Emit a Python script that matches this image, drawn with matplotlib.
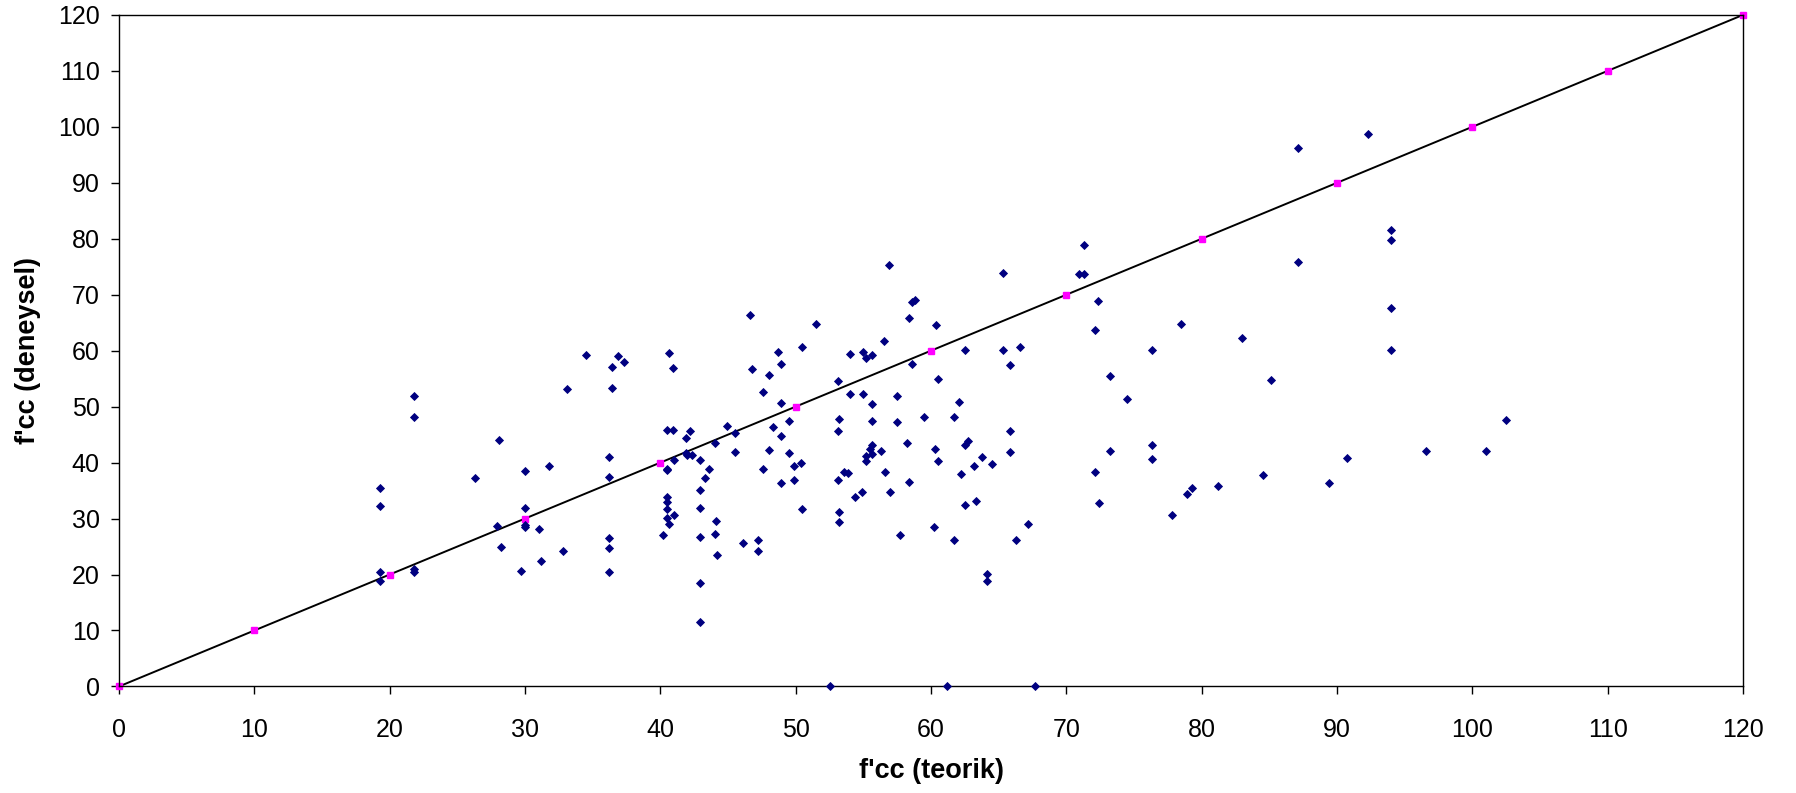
import matplotlib
matplotlib.use("Agg")
import matplotlib.pyplot as plt
import numpy as np

# Theoretical (x) vs experimental (y) confined concrete strength, f'cc
teorik = [
    34.5, 36.9, 36.4, 37.3, 33.1, 36.4, 21.8, 21.8, 28.1, 36.2,
    26.3, 30.0, 31.8, 36.2, 19.3, 19.3, 30.0, 27.9, 30.0, 30.0,
    31.0, 28.2, 32.8, 31.2, 29.7, 36.2, 36.2, 36.2, 19.3, 19.3,
    21.8, 21.8,
    46.6, 51.5, 58.4, 58.6, 58.8, 60.4, 40.6, 40.9, 46.8, 48.7,
    50.5, 48.9, 48.0, 47.6, 54.0, 55.0, 55.2, 55.6, 56.5, 58.6,
    53.1, 54.0, 55.0, 55.6, 57.5, 60.5, 48.9, 49.5, 48.3, 48.9,
    48.0, 49.5, 47.6, 49.9, 50.4, 48.9, 49.9, 50.5, 53.2, 53.1,
    55.6, 57.5, 59.5, 55.6, 55.5, 55.2, 55.6, 55.2, 56.3, 58.2,
    60.3, 60.5, 53.6, 53.9, 53.1, 56.6, 58.4, 57.0, 54.9, 54.4,
    53.2, 53.2, 57.7, 60.2, 52.5, 40.5, 40.9, 41.9, 42.2, 44.9,
    45.5, 44.0, 41.9, 42.3, 42.0, 41.0, 45.5, 42.9, 40.5, 40.5,
    43.6, 43.3, 42.9, 40.5, 40.5, 40.5, 42.9, 40.5, 41.0, 40.6,
    40.2, 44.1, 44.0, 42.9, 46.1, 47.2, 47.2, 44.2, 42.9, 42.9,
    56.9,
    71.3, 65.3, 70.9, 71.3, 72.3, 72.1, 78.5, 76.3, 62.5, 65.3,
    66.6, 65.8, 73.2, 74.5, 62.1, 61.7, 65.8, 62.7, 62.5, 65.8,
    63.8, 73.2, 76.3, 76.3, 63.2, 64.5, 62.2, 72.1, 62.5, 63.3,
    72.4, 78.9, 79.3, 81.2, 77.8, 67.2, 61.7, 66.3, 64.1, 64.1,
    61.2, 67.7,
    87.1, 92.3, 94.0, 94.0, 87.1, 94.0, 94.0, 83.0, 85.1, 102.5,
    96.6, 101.0, 90.7, 84.5, 89.4,
]
deneysel = [
    59.2, 59.0, 57.1, 57.9, 53.1, 53.3, 51.9, 48.1, 44.0, 41.0,
    37.3, 38.5, 39.4, 37.5, 35.4, 32.3, 31.9, 28.6, 28.9, 28.5,
    28.2, 25.0, 24.2, 22.4, 20.7, 26.5, 24.8, 20.4, 20.5, 18.8,
    20.9, 20.5,
    66.4, 64.8, 65.8, 68.7, 69.1, 64.5, 59.6, 56.9, 56.7, 59.8,
    60.6, 57.7, 55.6, 52.7, 59.4, 59.8, 58.7, 59.3, 61.7, 57.7,
    54.6, 52.3, 52.3, 50.4, 51.9, 55.0, 50.6, 47.5, 46.3, 44.8,
    42.3, 41.7, 38.9, 39.4, 40.0, 36.3, 36.9, 31.7, 47.7, 45.6,
    47.5, 47.3, 48.1, 43.2, 42.5, 41.1, 41.6, 40.2, 42.1, 43.5,
    42.5, 40.2, 38.4, 38.1, 36.9, 38.4, 36.5, 34.8, 34.8, 33.9,
    31.1, 29.4, 27.0, 28.4, 0.0, 45.9, 45.8, 44.4, 45.6, 46.5,
    45.2, 43.5, 41.7, 41.3, 41.3, 40.4, 41.9, 40.4, 38.8, 38.6,
    38.9, 37.3, 35.1, 33.8, 32.9, 31.7, 31.9, 30.1, 30.7, 29.0,
    27.0, 29.6, 27.3, 26.7, 25.7, 26.1, 24.2, 23.4, 18.4, 11.5,
    75.3,
    78.9, 73.9, 73.7, 73.7, 68.9, 63.7, 64.8, 60.2, 60.2, 60.2,
    60.6, 57.5, 55.4, 51.4, 50.8, 48.1, 45.6, 43.8, 43.1, 41.9,
    41.0, 42.1, 43.1, 40.6, 39.4, 39.8, 37.9, 38.3, 32.5, 33.2,
    32.8, 34.4, 35.4, 35.8, 30.7, 29.0, 26.1, 26.1, 20.1, 18.8,
    0.0, 0.0,
    96.3, 98.8, 81.6, 79.8, 75.8, 67.7, 60.2, 62.3, 54.8, 47.6,
    42.0, 42.0, 40.9, 37.8, 36.4,
]

# Equality line y = x with markers every 10 units
esitlik = list(range(0, 121, 10))

ticks = list(range(0, 121, 10))

plt.rcParams['font.family'] = ['Liberation Sans', 'DejaVu Sans']

fig = plt.figure(figsize=(17.96, 7.93), dpi=100)
ax = fig.add_axes([0.0663, 0.1344, 0.9042, 0.8468])

ax.plot(esitlik, esitlik, color='black', lw=1.4, marker='s',
        markersize=4.2, markerfacecolor='#ff00ff', markeredgecolor='#ff00ff',
        zorder=2, clip_on=False)
ax.plot(teorik, deneysel, linestyle='none', marker='D', markersize=3.9,
        markerfacecolor='#000080', markeredgecolor='#000080',
        markeredgewidth=0.6, zorder=3, clip_on=False)

ax.set_xlim(0, 120)
ax.set_ylim(0, 120)
ax.set_xticks(ticks)
ax.set_yticks(ticks)
ax.tick_params(direction='out', length=6, width=1, labelsize=18,
               colors='black')
ax.tick_params(axis='x', pad=16.7)
ax.tick_params(axis='y', pad=8)
for sp in ax.spines.values():
    sp.set_linewidth(1)
    sp.set_color('black')

ax.set_xlabel("f'cc (teorik)", fontsize=19.5, fontweight='bold', labelpad=11.5)
ax.set_ylabel("f'cc (deneysel)", fontsize=19.5, fontweight='bold', labelpad=12)

fig.savefig('out.png', dpi=100)
